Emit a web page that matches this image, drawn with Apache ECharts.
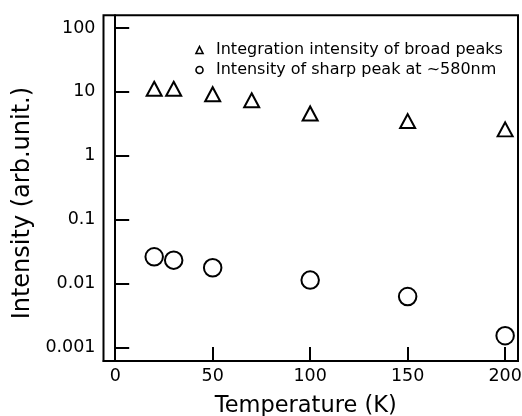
<!DOCTYPE html>
<html>
<head>
<meta charset="utf-8">
<script src="https://cdn.jsdelivr.net/npm/echarts@6/dist/echarts.min.js"></script>
<style>
  html, body { margin: 0; padding: 0; background: #fff; }
  #chart { width: 522px; height: 416px; }
</style>
</head>
<body>
<div id="chart"></div>
<script>
// temperatures (K)
const broadTemps = [20, 30, 50, 70, 100, 150, 200];
const broadValues = [11.2, 11.2, 9.2, 7.4, 4.6, 3.5, 2.6];
const sharpTemps = [20, 30, 50, 100, 150, 200];
const sharpValues = [0.0264, 0.0234, 0.0178, 0.0114, 0.0063, 0.00154];

const xTicks = [0, 50, 100, 150, 200];
const yTicks = [0.001, 0.01, 0.1, 1, 10, 100];
const yTickLabels = ['0.001', '0.01', '0.1', '1', '10', '100'];

const FONT = 'DejaVu Sans';

const chart = echarts.init(document.getElementById('chart'), null, { renderer: 'canvas' });

const option = {
  animation: false,
  textStyle: { fontFamily: FONT, color: '#000' },
  grid: {
    left: 103.5, right: 4, top: 15.3, bottom: 55,
    outerBoundsMode: 'none',
    show: true, borderColor: '#000', borderWidth: 2
  },
  legend: {
    orient: 'vertical',
    left: 190.2,
    top: 37,
    itemWidth: 7,
    itemHeight: 7,
    itemGap: 4,
    textStyle: { fontFamily: FONT, fontSize: 16, color: '#000', padding: [0, 0, 0, 8] },
    data: [
      { name: 'Integration intensity of broad peaks', icon: 'triangle' },
      { name: 'Intensity of sharp peak at ~580nm', icon: 'circle' }
    ],
    itemStyle: { color: '#fff', borderColor: '#000', borderWidth: 1.6, opacity: 1 }
  },
  xAxis: {
    type: 'value',
    min: -6,
    max: 206.6,
    name: 'Temperature (K)',
    nameLocation: 'middle',
    nameGap: 34,
    nameTextStyle: { fontFamily: FONT, fontSize: 22.5, color: '#000', padding: [0, 10, 0, 0] },
    axisLine: { show: true, lineStyle: { color: '#000', width: 2 } },
    axisTick: { show: true, inside: true, length: 14, customValues: xTicks, lineStyle: { color: '#000', width: 2 } },
    axisLabel: { customValues: xTicks, fontFamily: FONT, fontSize: 17.5, color: '#000', margin: 6 },
    splitLine: { show: false }
  },
  yAxis: {
    type: 'log',
    logBase: 10,
    min: 0.000619,
    max: 158,
    name: 'Intensity (arb.unit.)',
    nameLocation: 'middle',
    nameGap: 66,
    nameTextStyle: { fontFamily: FONT, fontSize: 24, color: '#000', padding: [0, 30, 0, 0] },
    axisLine: { show: true, lineStyle: { color: '#000', width: 2 } },
    axisTick: { show: true, inside: true, length: 14, customValues: yTicks, lineStyle: { color: '#000', width: 2 } },
    axisLabel: {
      customValues: yTicks,
      fontFamily: FONT, fontSize: 17.5, color: '#000', margin: 8,
      formatter: function (v) {
        const i = Math.round(Math.log10(v)) + 3;
        return yTickLabels[i];
      }
    },
    splitLine: { show: false },
    minorTick: { show: false }
  },
  series: [
    {
      name: 'Integration intensity of broad peaks',
      type: 'scatter',
      symbol: 'triangle',
      symbolSize: [15, 14],
      itemStyle: { color: '#fff', borderColor: '#000', borderWidth: 2, opacity: 1 },
      data: broadTemps.map((t, i) => [t, broadValues[i]])
    },
    {
      name: 'Intensity of sharp peak at ~580nm',
      type: 'scatter',
      symbol: 'circle',
      symbolSize: 17.5,
      itemStyle: { color: '#fff', borderColor: '#000', borderWidth: 2, opacity: 1 },
      data: sharpTemps.map((t, i) => [t, sharpValues[i]])
    }
  ]
};

chart.setOption(option);
</script>
</body>
</html>
